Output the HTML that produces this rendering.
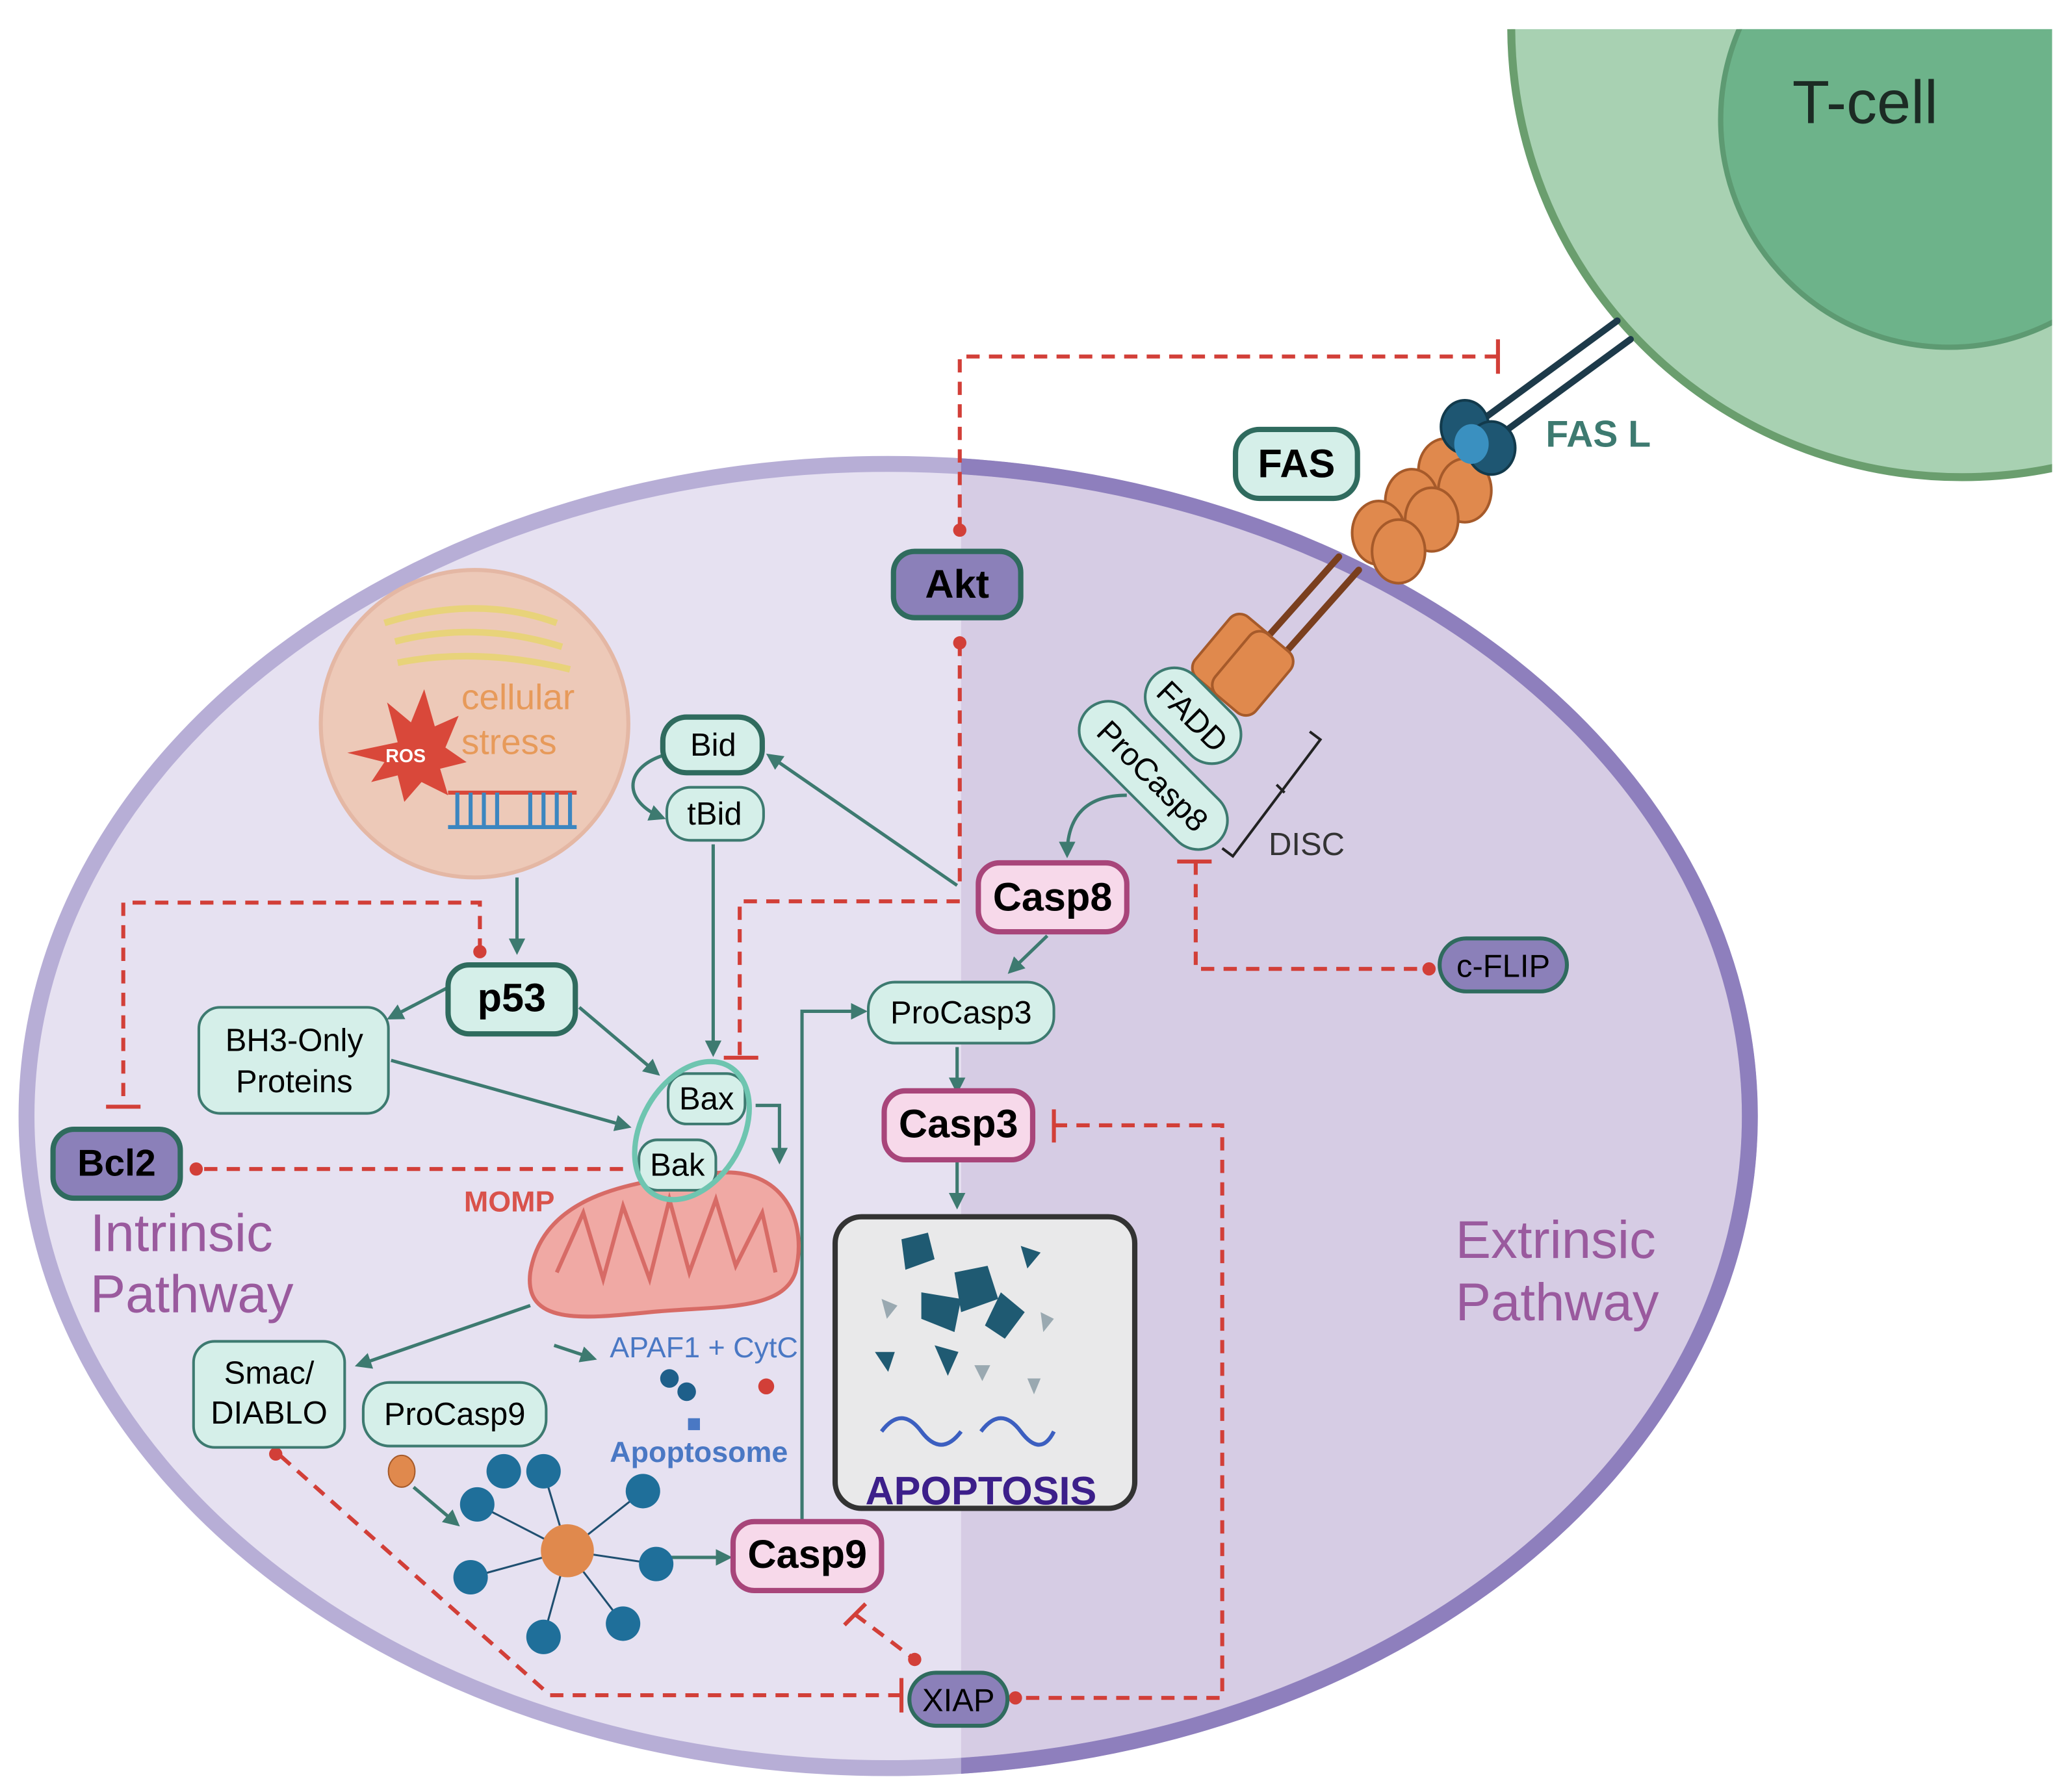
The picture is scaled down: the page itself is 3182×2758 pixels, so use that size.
<!DOCTYPE html>
<html><head><meta charset="utf-8">
<style>
html,body{margin:0;padding:0;background:#fff;}
svg{display:block;}
text{font-family:"Liberation Sans",sans-serif;}
</style></head>
<body>
<svg width="3182" height="2758" viewBox="0 0 1560 1352" preserveAspectRatio="none" xmlns="http://www.w3.org/2000/svg">
<defs>
<clipPath id="tc"><rect x="1100" y="22" width="448" height="400"/></clipPath>
<clipPath id="cellc"><ellipse cx="670" cy="842" rx="650" ry="492"/></clipPath>
<clipPath id="rh"><rect x="725" y="300" width="700" height="1100"/></clipPath>
<marker id="ar" viewBox="0 0 10 10" refX="8" refY="5" markerWidth="5" markerHeight="5" orient="auto"><path d="M0,0L10,5L0,10z" fill="#3d7a70"/></marker>
</defs>

<!-- T-cell -->
<g clip-path="url(#tc)">
<circle cx="1480" cy="20" r="340" fill="#a8d1b2" stroke="#6a9e6e" stroke-width="6"/>
<circle cx="1470" cy="90" r="172" fill="#6db38a" stroke="#5d9a72" stroke-width="4"/>
</g>
<text x="1352" y="93" font-size="46" fill="#1c2b24">T-cell</text>

<!-- Cell -->
<ellipse cx="670" cy="842" rx="650" ry="492" fill="#e6e1f1"/>
<g clip-path="url(#cellc)"><rect x="725" y="300" width="700" height="1100" fill="#d6cce4"/></g>
<ellipse cx="670" cy="842" rx="650" ry="492" fill="none" stroke="#b7aed6" stroke-width="12"/>
<g clip-path="url(#rh)"><ellipse cx="670" cy="842" rx="650" ry="492" fill="none" stroke="#8e7fbd" stroke-width="12"/></g>

<!-- receptor -->
<g stroke-linecap="round">
<line x1="1220" y1="242" x2="1100" y2="330" stroke="#1d3a4a" stroke-width="5"/>
<line x1="1230" y1="256" x2="1110" y2="344" stroke="#1d3a4a" stroke-width="5"/>
<line x1="1010" y1="420" x2="930" y2="510" stroke="#7a3f1e" stroke-width="5"/>
<line x1="1025" y1="430" x2="945" y2="520" stroke="#7a3f1e" stroke-width="5"/>
</g>
<g fill="#e0894d" stroke="#a65a2a" stroke-width="2">
<ellipse cx="1090" cy="355" rx="20" ry="24"/><ellipse cx="1105" cy="370" rx="20" ry="24"/>
<ellipse cx="1065" cy="378" rx="20" ry="24"/><ellipse cx="1080" cy="392" rx="20" ry="24"/>
<ellipse cx="1040" cy="402" rx="20" ry="24"/><ellipse cx="1055" cy="416" rx="20" ry="24"/>
<rect x="910" y="465" width="40" height="60" rx="10" transform="rotate(40 930 495)"/>
<rect x="925" y="478" width="40" height="60" rx="10" transform="rotate(40 945 508)"/>
</g>
<ellipse cx="1105" cy="322" rx="18" ry="20" fill="#1e5672" stroke="#123a4c" stroke-width="2"/>
<ellipse cx="1125" cy="338" rx="18" ry="20" fill="#1e5672" stroke="#123a4c" stroke-width="2"/>
<ellipse cx="1110" cy="335" rx="13" ry="15" fill="#3a90c0"/>
<text x="1166" y="337" font-size="28" font-weight="bold" fill="#3d7a70">FAS L</text>

<!-- FAS -->
<rect x="932" y="324" width="92" height="52" rx="18" fill="#d5efe9" stroke="#2f6b5e" stroke-width="4"/>
<text x="978" y="360" font-size="30" font-weight="bold" text-anchor="middle">FAS</text>

<!-- FADD / ProCasp8 -->
<g transform="rotate(45 900 540)"><rect x="858" y="518" width="84" height="44" rx="22" fill="#d5efe9" stroke="#3d7a70" stroke-width="2"/>
<text x="900" y="549" font-size="24" text-anchor="middle">FADD</text></g>
<g transform="rotate(45 870 585)"><rect x="800" y="563" width="140" height="44" rx="22" fill="#d5efe9" stroke="#3d7a70" stroke-width="2"/>
<text x="870" y="594" font-size="24" text-anchor="middle">ProCasp8</text></g>
<path d="M988,552 L996,558 L930,646 L922,640 M963,592 L969,598" fill="none" stroke="#222" stroke-width="2"/>
<text x="957" y="645" font-size="24" fill="#333">DISC</text>

<!-- red dashed -->
<g fill="none" stroke="#d23f38" stroke-width="3" stroke-dasharray="10,7">
<path d="M1130,269 L724,269 L724,400"/>
<path d="M724,485 L724,670 M724,680 L558,680 L558,798"/>
<path d="M902,650 L902,731 L1078,731"/>
<path d="M362,718 L362,681 L93,681 L93,835"/>
<path d="M470,882 L148,882"/>
<path d="M795,849 L922,849 L922,1281 L766,1281"/>
<path d="M680,1279 L415,1279 L210,1097"/>
<path d="M645,1218 L690,1252"/>
</g>
<g fill="#d23f38">
<circle cx="724" cy="400" r="5"/><circle cx="724" cy="485" r="5"/>
<circle cx="1078" cy="731" r="5"/><circle cx="362" cy="718" r="5"/>
<circle cx="148" cy="882" r="5"/><circle cx="766" cy="1281" r="5"/>
<circle cx="208" cy="1097" r="5"/><circle cx="690" cy="1252" r="5"/><circle cx="578" cy="1046" r="6"/>
</g>
<g stroke="#d23f38" stroke-width="3">
<line x1="1130" y1="256" x2="1130" y2="282"/>
<line x1="888" y1="650" x2="914" y2="650"/>
<line x1="546" y1="798" x2="572" y2="798"/>
<line x1="80" y1="835" x2="106" y2="835"/>
<line x1="795" y1="837" x2="795" y2="862"/>
<line x1="680" y1="1266" x2="680" y2="1292"/>
<line x1="637" y1="1226" x2="653" y2="1210"/>
</g>

<!-- solid arrows -->
<g fill="none" stroke="#3d7a70" stroke-width="2.5" marker-end="url(#ar)">
<path d="M390,662 L390,718"/>
<path d="M722,668 L580,570"/>
<path d="M500,570 C470,580 470,605 500,617"/>
<path d="M538,637 L538,795"/>
<path d="M850,600 C820,600 805,615 805,645"/>
<path d="M790,706 L762,733"/>
<path d="M722,790 L722,823"/>
<path d="M722,876 L722,910"/>
<path d="M338,745 L294,768"/>
<path d="M437,760 L496,810"/>
<path d="M295,800 L474,850"/>
<path d="M570,834 L588,834 L588,876"/>
<path d="M400,985 L270,1030"/>
<path d="M418,1015 L448,1025"/>
<path d="M605,1148 L605,763 L652,763"/>
<path d="M312,1122 L345,1150"/>
<path d="M505,1175 L550,1175"/>
</g>

<!-- cellular stress -->
<circle cx="358" cy="546" r="116" fill="#edc9b8" stroke="#e4b7a4" stroke-width="3"/>
<g fill="none" stroke="#e8d37a" stroke-width="5">
<path d="M290,470 Q360,448 420,470"/><path d="M298,484 Q360,468 424,488"/><path d="M300,500 Q360,488 430,505"/>
</g>
<path d="M300,560 L292,530 L310,545 L320,520 L328,548 L346,540 L336,564 L352,575 L332,580 L338,600 L318,590 L305,605 L300,585 L280,590 L290,575 L262,568 Z" fill="#d9483a"/>
<text x="306" y="575" font-size="14" font-weight="bold" fill="#fff" text-anchor="middle">ROS</text>
<text x="348" y="535" font-size="27" fill="#e79a5a">cellular</text>
<text x="348" y="569" font-size="27" fill="#e79a5a">stress</text>
<g stroke-width="3"><path d="M338,598 L435,598" stroke="#d9483a"/><path d="M338,624 L435,624" stroke="#3c86c0"/>
<path d="M345,598 V624 M355,598 V624 M365,598 V624 M375,598 V624 M400,598 V624 M410,598 V624 M420,598 V624 M430,598 V624" stroke="#3c86c0"/></g>

<!-- mitochondria -->
<path d="M400,960 C410,900 480,890 540,885 C590,880 610,920 600,960 C590,990 540,985 490,990 C440,995 395,1000 400,960 Z" fill="#f0a9a4" stroke="#d76b66" stroke-width="3"/>
<path d="M420,960 L440,915 L455,965 L470,910 L490,965 L505,905 L520,960 L540,905 L555,955 L575,915 L585,960" fill="none" stroke="#d76b66" stroke-width="3"/>
<text x="350" y="914" font-size="22" font-weight="bold" fill="#d9524b">MOMP</text>

<!-- nodes -->
<g font-size="26" text-anchor="middle">
<rect x="674" y="416" width="96" height="50" rx="16" fill="#8b80b9" stroke="#2f6b5e" stroke-width="4"/>
<text x="722" y="451" font-size="30" font-weight="bold">Akt</text>
<rect x="500" y="541" width="75" height="42" rx="18" fill="#d5efe9" stroke="#2f6b5e" stroke-width="4"/>
<text x="538" y="570" font-size="24">Bid</text>
<rect x="503" y="594" width="73" height="40" rx="18" fill="#d5efe9" stroke="#3d7a70" stroke-width="2"/>
<text x="539" y="622" font-size="24">tBid</text>
<rect x="738" y="651" width="112" height="52" rx="16" fill="#f7d9ea" stroke="#a8457a" stroke-width="4"/>
<text x="794" y="687" font-size="30" font-weight="bold">Casp8</text>
<rect x="1086" y="708" width="96" height="40" rx="20" fill="#8b80b9" stroke="#2f6b5e" stroke-width="3"/>
<text x="1134" y="737" font-size="24">c-FLIP</text>
<rect x="338" y="728" width="96" height="52" rx="16" fill="#d5efe9" stroke="#2f6b5e" stroke-width="4"/>
<text x="386" y="763" font-size="30" font-weight="bold">p53</text>
<rect x="150" y="760" width="143" height="80" rx="16" fill="#d5efe9" stroke="#3d7a70" stroke-width="2"/>
<text x="222" y="793" font-size="24">BH3-Only</text><text x="222" y="824" font-size="24">Proteins</text>
<rect x="655" y="741" width="140" height="46" rx="20" fill="#d5efe9" stroke="#3d7a70" stroke-width="2"/>
<text x="725" y="772" font-size="24">ProCasp3</text>
<rect x="667" y="823" width="112" height="52" rx="16" fill="#f7d9ea" stroke="#a8457a" stroke-width="4"/>
<text x="723" y="858" font-size="30" font-weight="bold">Casp3</text>
<rect x="40" y="852" width="96" height="52" rx="16" fill="#8b80b9" stroke="#2f6b5e" stroke-width="4"/>
<text x="88" y="887" font-size="28" font-weight="bold">Bcl2</text>
<rect x="504" y="810" width="58" height="38" rx="14" fill="#d5efe9" stroke="#3d7a70" stroke-width="2"/>
<text x="533" y="837" font-size="24">Bax</text>
<rect x="482" y="860" width="58" height="38" rx="14" fill="#d5efe9" stroke="#3d7a70" stroke-width="2"/>
<text x="511" y="887" font-size="24">Bak</text>
<rect x="146" y="1012" width="114" height="80" rx="16" fill="#d5efe9" stroke="#3d7a70" stroke-width="2"/>
<text x="203" y="1044" font-size="24">Smac/</text><text x="203" y="1074" font-size="24">DIABLO</text>
<rect x="274" y="1043" width="138" height="48" rx="20" fill="#d5efe9" stroke="#3d7a70" stroke-width="2"/>
<text x="343" y="1075" font-size="24">ProCasp9</text>
<rect x="553" y="1148" width="112" height="52" rx="16" fill="#f7d9ea" stroke="#a8457a" stroke-width="4"/>
<text x="609" y="1183" font-size="30" font-weight="bold">Casp9</text>
<rect x="686" y="1262" width="74" height="40" rx="20" fill="#8b80b9" stroke="#2f6b5e" stroke-width="3"/>
<text x="723" y="1291" font-size="24">XIAP</text>
</g>
<ellipse cx="522" cy="853" rx="38" ry="56" transform="rotate(30 522 853)" fill="none" stroke="#6ec5b0" stroke-width="4"/>

<text x="460" y="1024" font-size="22" fill="#4a78c4">APAF1 + CytC</text>
<text x="460" y="1103" font-size="22" font-weight="bold" fill="#4a78c4">Apoptosome</text>
<circle cx="505" cy="1040" r="7" fill="#1e5f8a"/><circle cx="518" cy="1050" r="7" fill="#1e5f8a"/><rect x="519" y="1070" width="9" height="9" fill="#4a78c4"/>
<ellipse cx="303" cy="1110" rx="10" ry="12" fill="#e0894d" stroke="#a65a2a"/>

<!-- apoptosome wheel -->
<g stroke="#1f4f70" stroke-width="1.5"><path d="M428,1170 L360,1135 M428,1170 L410,1110 M428,1170 L485,1125 M428,1170 L495,1180 M428,1170 L470,1225 M428,1170 L410,1235 M428,1170 L355,1190"/></g>
<g fill="#1f6f9a">
<circle cx="428" cy="1170" r="20" fill="#e0894d"/>
<circle cx="360" cy="1135" r="13"/><circle cx="410" cy="1110" r="13"/><circle cx="485" cy="1125" r="13"/>
<circle cx="495" cy="1180" r="13"/><circle cx="470" cy="1225" r="13"/><circle cx="410" cy="1235" r="13"/>
<circle cx="355" cy="1190" r="13"/><circle cx="380" cy="1110" r="13"/>
</g>

<!-- apoptosis box -->
<rect x="630" y="918" width="226" height="220" rx="20" fill="#e9e9ea" stroke="#333" stroke-width="4"/>
<g fill="#1f5a72">
<path d="M680,935 l20,-5 l5,20 l-22,8z"/><path d="M720,960 l25,-5 l8,25 l-28,10z"/><path d="M695,975 l30,5 l-5,25 l-25,-10z"/>
<path d="M755,975 l18,15 l-15,20 l-15,-10z"/><path d="M660,1020 l15,0 l-5,15z"/><path d="M705,1015 l18,5 l-8,18z"/>
<path d="M770,940 l15,5 l-10,12z"/></g>
<g fill="#9aa9b1"><path d="M665,980 l12,5 l-8,10z"/><path d="M735,1030 l12,0 l-6,12z"/><path d="M785,990 l10,5 l-8,10z"/><path d="M775,1040 l10,0 l-5,12z"/></g>
<path d="M665,1080 q15,-20 30,0 t30,0 M740,1080 q15,-20 30,0 t25,0" fill="none" stroke="#3c5fc0" stroke-width="3"/>
<text x="740" y="1135" font-size="30" font-weight="bold" fill="#3c1f8a" text-anchor="middle">APOPTOSIS</text>

<!-- pathway labels -->
<text x="68" y="944" font-size="40" fill="#9a5a9e">Intrinsic</text>
<text x="68" y="990" font-size="40" fill="#9a5a9e">Pathway</text>
<text x="1098" y="949" font-size="40" fill="#9a5a9e">Extrinsic</text>
<text x="1098" y="996" font-size="40" fill="#9a5a9e">Pathway</text>
</svg>
</body></html>
